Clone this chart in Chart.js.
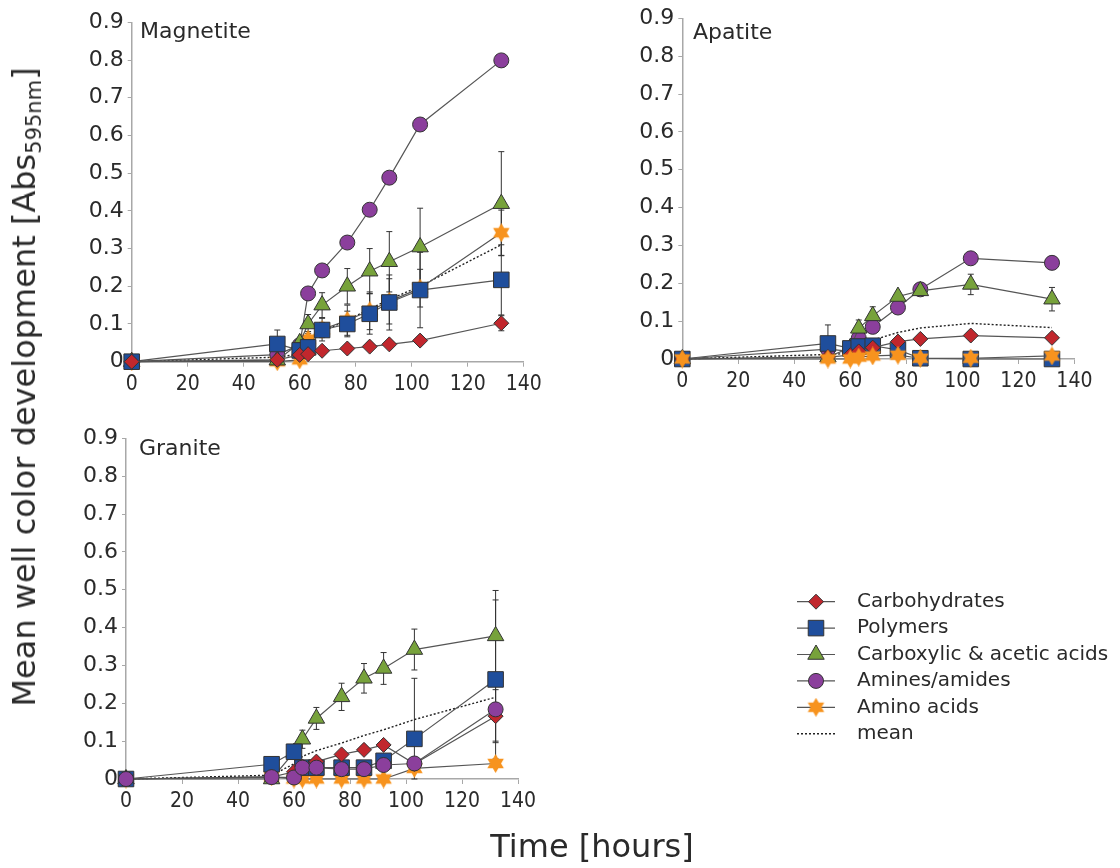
<!DOCTYPE html>
<html>
<head>
<meta charset="utf-8">
<script src="https://cdn.jsdelivr.net/npm/chart.js@4.4.1/dist/chart.umd.min.js"></script>
<style>
  body { margin: 0; width: 1120px; height: 868px; background: #fff; position: relative; overflow: hidden; }
  canvas { position: absolute; }
  .txt { position: absolute; font-family: 'DejaVu Sans', Verdana, sans-serif; color: #2a2a2a; line-height: 1; white-space: nowrap; }
  .panel { font-size: 22px; }
  .title { font-size: 32px; }
  sub { font-size: 21px; vertical-align: -6px; line-height: 0; }
</style>
</head>
<body>
<canvas id="mg" width="550" height="410" style="left:0;top:0"></canvas>
<canvas id="ap" width="570" height="410" style="left:550px;top:0"></canvas>
<canvas id="gr" width="1120" height="458" style="left:0;top:410px"></canvas>

<div class="txt panel" style="left:140px;top:20px">Magnetite</div>
<div class="txt panel" style="left:693px;top:21px">Apatite</div>
<div class="txt panel" style="left:139px;top:437px">Granite</div>
<div class="txt title" style="left:592px;top:830px;transform:translateX(-50%)">Time [hours]</div>
<div class="txt title" style="left:24px;top:387px;transform:translate(-50%,-50%) rotate(-90deg)">Mean well color development [Abs<sub>595nm</sub>]</div>

<script>
// Magnetite
const mgTime   = [0, 52, 60, 63, 68, 77, 85, 92, 103, 132];
const mgCarb   = [0, 0.005, 0.018, 0.02, 0.029, 0.035, 0.04, 0.046, 0.056, 0.102];
const mgPoly   = [0, 0.047, 0.03, 0.038, 0.084, 0.10, 0.127, 0.157, 0.19, 0.217];
const mgCarbox = [0, 0.004, 0.05, 0.10, 0.15, 0.20, 0.24, 0.265, 0.304, 0.419];
const mgAmines = [0, 0.019, 0.044, 0.181, 0.242, 0.316, 0.403, 0.488, 0.629, 0.799];
const mgAmino  = [0, 0.0, 0.005, 0.06, 0.085, 0.11, 0.135, 0.16, 0.195, 0.342];
const mgMean   = [0, 0.012, 0.02, 0.05, 0.08, 0.11, 0.14, 0.165, 0.2, 0.31];
const mgPolyErr   = [0, 0.037, 0, 0.01, 0.02, 0.034, 0.054, 0.073, 0.1, 0.093];
const mgCarboxErr = [0, 0, 0.01, 0.025, 0.033, 0.047, 0.06, 0.08, 0.103, 0.138];
const mgAminoErr  = [0, 0, 0, 0.02, 0.03, 0.04, 0.05, 0.06, 0.05, 0.06];
const mgCarbErr   = [0, 0, 0, 0, 0, 0, 0, 0, 0, 0.02];

// Apatite
const apTime   = [0, 52, 60, 63, 68, 77, 85, 103, 132];
const apCarb   = [0, 0.005, 0.01, 0.02, 0.03, 0.046, 0.053, 0.062, 0.056];
const apPoly   = [0, 0.041, 0.028, 0.033, 0.035, 0.024, 0.002, 0.0, 0.0];
const apCarbox = [0, 0.005, 0.03, 0.081, 0.114, 0.165, 0.18, 0.197, 0.158];
const apAmines = [0, 0.026, 0.02, 0.055, 0.085, 0.136, 0.184, 0.266, 0.254];
const apAmino  = [0, 0.0, 0.0, 0.005, 0.008, 0.01, 0.002, 0.002, 0.008];
const apMean   = [0, 0.012, 0.015, 0.04, 0.05, 0.07, 0.082, 0.094, 0.083];
const apPolyErr   = [0, 0.049, 0, 0, 0, 0, 0, 0, 0];
const apCarboxErr = [0, 0, 0, 0.022, 0.024, 0.01, 0.01, 0.027, 0.031];

// Granite
const grTime   = [0, 52, 60, 63, 68, 77, 85, 92, 103, 132];
const grCarb   = [0, 0.005, 0.019, 0.033, 0.046, 0.065, 0.077, 0.09, 0.04, 0.166];
const grPoly   = [0, 0.039, 0.072, 0.03, 0.03, 0.03, 0.03, 0.048, 0.106, 0.263];
const grCarbox = [0, 0.0, 0.07, 0.105, 0.16, 0.217, 0.266, 0.292, 0.342, 0.378];
const grAmines = [0, 0.005, 0.004, 0.03, 0.03, 0.026, 0.026, 0.037, 0.041, 0.184];
const grAmino  = [0, 0.006, 0.0, 0.0, 0.0, 0.0, 0.0, 0.0, 0.028, 0.041];
const grMean   = [0, 0.01, 0.04, 0.06, 0.075, 0.095, 0.115, 0.13, 0.157, 0.216];
const grCarbErr   = [0, 0, 0, 0, 0, 0, 0, 0, 0, 0.07];
const grPolyErr   = [0, 0, 0, 0, 0, 0, 0, 0, 0.16, 0.21];
const grCarboxErr = [0, 0, 0.005, 0.024, 0.029, 0.036, 0.039, 0.042, 0.054, 0.12];
const grAminesErr = [0, 0, 0, 0, 0, 0, 0, 0, 0, 0.084];

const seriesNames = ['Carbohydrates', 'Polymers', 'Carboxylic & acetic acids', 'Amines/amides', 'Amino acids', 'mean'];
const xTicks = [0, 20, 40, 60, 80, 100, 120, 140];
const yTicks = [0, 0.1, 0.2, 0.3, 0.4, 0.5, 0.6, 0.7, 0.8, 0.9];

Chart.defaults.font.family = "'DejaVu Sans', Verdana, sans-serif";
Chart.defaults.color = '#2a2a2a';

function makeStar(size, color) {
    const c = document.createElement('canvas');
    c.width = c.height = size;
    const g = c.getContext('2d');
    const r = size / 2, ri = r * 0.58;
    g.beginPath();
    for (let i = 0; i < 12; i++) {
        const a = -Math.PI / 2 + i * Math.PI / 6;
        const rr = i % 2 ? ri : r;
        g.lineTo(r + rr * Math.cos(a), r + rr * Math.sin(a));
    }
    g.closePath();
    g.fillStyle = color;
    g.fill();
    return c;
}
const starImg = makeStar(19, '#f7931e');

const styles = [
    { pointStyle: 'rectRot',  radius: 7.5, color: '#c1272d' },
    { pointStyle: 'rect',     radius: 11,  color: '#1f4e9c' },
    { pointStyle: 'triangle', radius: 9.5, color: '#77a23b' },
    { pointStyle: 'circle',   radius: 7.5, color: '#8b3f9c' },
    { pointStyle: starImg,    radius: 9,   color: '#f7931e' }
];

// error bars drawn under the lines, using the chart scales
const errorBars = {
    id: 'errorBars',
    beforeDatasetsDraw(chart) {
        const { ctx, scales: { x, y } } = chart;
        ctx.save();
        ctx.strokeStyle = '#333';
        ctx.lineWidth = 1;
        chart.data.datasets.forEach(ds => {
            if (!ds.errors) return;
            ds.data.forEach((p, i) => {
                const e = ds.errors[i];
                if (!e) return;
                const px = x.getPixelForValue(p.x);
                const top = y.getPixelForValue(p.y + e);
                const bot = y.getPixelForValue(Math.max(0, p.y - e));
                ctx.beginPath();
                ctx.moveTo(px, top); ctx.lineTo(px, bot);
                ctx.moveTo(px - 3, top); ctx.lineTo(px + 3, top);
                ctx.moveTo(px - 3, bot); ctx.lineTo(px + 3, bot);
                ctx.stroke();
            });
        });
        ctx.restore();
    }
};

// legend with line + marker, drawn on the granite canvas
const sideLegend = {
    id: 'sideLegend',
    afterDraw(chart, args, opts) {
        if (!opts.show) return;
        const ctx = chart.ctx;
        ctx.save();
        ctx.font = "20px 'DejaVu Sans', Verdana, sans-serif";
        ctx.textBaseline = 'middle';
        ctx.fillStyle = '#2a2a2a';
        seriesNames.forEach((name, i) => {
            const yy = opts.top + i * opts.step;
            ctx.beginPath();
            ctx.strokeStyle = i < 5 ? '#555' : '#222';
            ctx.lineWidth = i < 5 ? 1.2 : 1.5;
            ctx.setLineDash(i < 5 ? [] : [2, 2]);
            ctx.moveTo(opts.x0, yy); ctx.lineTo(opts.x1, yy);
            ctx.stroke();
            ctx.setLineDash([]);
            if (i < 5) {
                const s = styles[i];
                ctx.fillStyle = s.color;
                ctx.strokeStyle = '#333';
                ctx.lineWidth = 1;
                Chart.helpers.drawPoint(ctx, { pointStyle: s.pointStyle, radius: s.radius, rotation: 0, borderWidth: 1 },
                    (opts.x0 + opts.x1) / 2, yy);
            }
            ctx.fillStyle = '#2a2a2a';
            ctx.fillText(name, opts.textX, yy);
        });
        ctx.restore();
    }
};

function pts(xs, ys) {
    return xs.map((v, i) => ({ x: v, y: ys[i] }));
}

// order: lower number is drawn on top
function makeChart(id, times, series, errs, mean, pad, orders, legend) {
    const datasets = series.map((vals, i) => ({
        label: seriesNames[i],
        data: pts(times, vals),
        errors: errs[i],
        borderColor: '#555',
        borderWidth: 1.2,
        pointStyle: styles[i].pointStyle,
        pointRadius: styles[i].radius,
        pointBackgroundColor: styles[i].color,
        pointBorderColor: '#333',
        pointBorderWidth: 1,
        order: orders[i],
        clip: false
    }));
    datasets.push({
        label: 'mean',
        data: pts(times, mean),
        borderColor: '#222',
        borderWidth: 1.4,
        borderDash: [2, 2],
        pointRadius: 0,
        order: 10,
        clip: false
    });
    return new Chart(document.getElementById(id), {
        type: 'line',
        data: { datasets },
        options: {
            responsive: false,
            animation: false,
            layout: { padding: pad, autoPadding: false },
            plugins: {
                legend: { display: false },
                tooltip: { enabled: false },
                sideLegend: legend || { show: false }
            },
            scales: {
                x: {
                    type: 'linear', min: 0, max: 140,
                    afterBuildTicks: s => { s.ticks = xTicks.map(v => ({ value: v })); },
                    afterFit: s => { s.height = 40; },
                    grid: { drawOnChartArea: false, tickLength: 5, color: '#a8a8a8' },
                    border: { color: '#a8a8a8', width: 1.5 },
                    ticks: { padding: 5, maxRotation: 0, font: { size: 21, family: "'DejaVu Sans Condensed', 'DejaVu Sans', sans-serif" } }
                },
                y: {
                    type: 'linear', min: 0, max: 0.9,
                    afterBuildTicks: s => { s.ticks = yTicks.map(v => ({ value: v })); },
                    afterFit: s => { s.width = 50; },
                    grid: { drawOnChartArea: false, tickLength: 4, color: '#a8a8a8' },
                    border: { color: '#a8a8a8', width: 1.5 },
                    ticks: { padding: 4, font: { size: 22 }, callback: v => v === 0 ? '0' : v.toFixed(1) }
                }
            }
        },
        plugins: [errorBars, sideLegend]
    });
}

const zeros = n => new Array(n).fill(0);

makeChart('mg', mgTime,
    [mgCarb, mgPoly, mgCarbox, mgAmines, mgAmino],
    [mgCarbErr, mgPolyErr, mgCarboxErr, zeros(10), mgAminoErr],
    mgMean, { left: 81.7, top: 22.3, right: 26.3, bottom: 8.3 },
    [0, 1, 2, 3, 4]);

makeChart('ap', apTime,
    [apCarb, apPoly, apCarbox, apAmines, apAmino],
    [zeros(9), apPolyErr, apCarboxErr, zeros(9), zeros(9)],
    apMean, { left: 82.3, top: 18.3, right: 45.6, bottom: 11 },
    [0, 1, 2, 3, -1]);

makeChart('gr', grTime,
    [grCarb, grPoly, grCarbox, grAmines, grAmino],
    [grCarbErr, grPolyErr, grCarboxErr, grAminesErr, zeros(10)],
    grMean, { left: 76, top: 28.3, right: 602, bottom: 49 },
    [1, 2, 3, 0, 4],
    { show: true, x0: 797, x1: 835, textX: 857, top: 191.7, step: 26.4 });
</script>
</body>
</html>
